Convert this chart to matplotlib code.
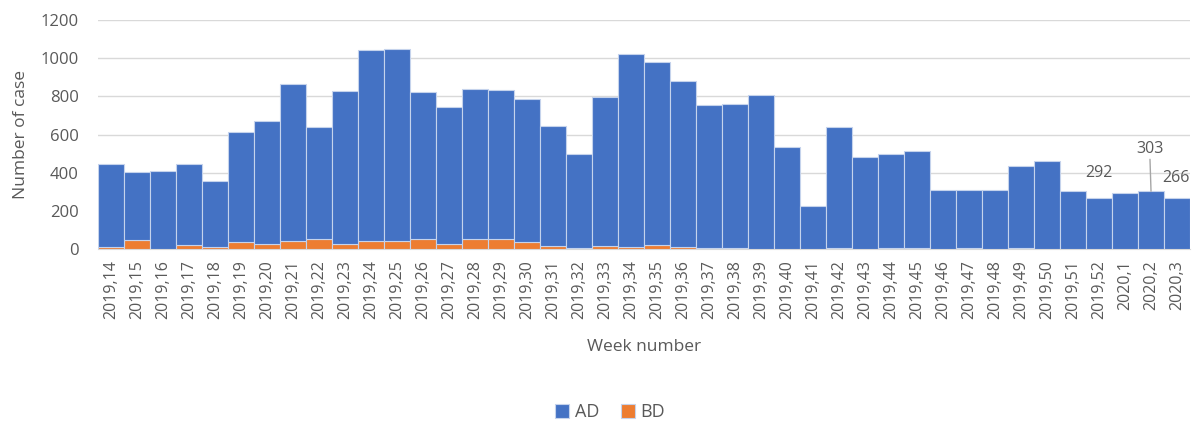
import matplotlib.pyplot as plt
import numpy as np

weeks = ['2019,%d' % w for w in range(14, 53)] + ['2020,1', '2020,2', '2020,3']

total = [444, 405, 410, 448, 357, 612, 672, 862, 640, 828,
         1040, 1047, 825, 742, 840, 835, 787, 645, 497, 798,
         1022, 978, 878, 755, 762, 805, 533, 228, 638, 480,
         497, 513, 310, 310, 307, 433, 460, 305, 270, 292,
         303, 266]

bd = [13, 50, 1, 24, 9, 36, 28, 45, 54, 28,
      41, 41, 54, 28, 54, 54, 36, 19, 7, 19,
      13, 22, 11, 6, 6, 2, 0, 0, 4, 0,
      4, 4, 0, 4, 0, 4, 0, 0, 0, 0,
      0, 0]

ad = [t - b for t, b in zip(total, bd)]

# labelled points at the end of the series
labels = {'2020,1': 292, '2020,2': 303, '2020,3': 266}

plt.rcParams['font.family'] = ['Open Sans', 'DejaVu Sans']
grey = '#595959'

fig = plt.figure(figsize=(11.96, 4.23), dpi=100)
ax = fig.add_axes([0.082, 0.411, 0.913, 0.542])

x = np.arange(len(weeks))
edge = '#c5d3ec'
ax.bar(x, bd, width=1.0, color='#ED7D31', edgecolor=edge, linewidth=0.8,
       label='BD', zorder=3)
ax.bar(x, ad, width=1.0, bottom=bd, color='#4472C4', edgecolor=edge,
       linewidth=0.8, label='AD', zorder=3)

ax.set_ylim(0, 1200)
ax.set_yticks(range(0, 1201, 200))
ax.set_xlim(-0.5, len(weeks) - 0.5)
ax.set_xticks(x)
ax.set_xticklabels(weeks, rotation=90)
ax.yaxis.grid(True, color='#d9d9d9', linewidth=1, zorder=0)
ax.tick_params(axis='both', length=0, colors=grey, labelsize=11.5)
ax.tick_params(axis='y', pad=14, labelsize=12)
ax.tick_params(axis='x', pad=8)
for s in ['top', 'right', 'left']:
    ax.spines[s].set_visible(False)
ax.spines['bottom'].set_color('#d9d9d9')

ax.set_xlabel('Week number', color=grey, fontsize=12.5, labelpad=14)
ax.set_ylabel('Number of case', color=grey, fontsize=12.5, labelpad=8)

i1 = weeks.index('2020,1')
i2 = weeks.index('2020,2')
i3 = weeks.index('2020,3')
ax.annotate(str(labels['2020,1']), (i1, labels['2020,1']), xytext=(-19, 9),
            textcoords='offset points', ha='center', va='bottom',
            color=grey, fontsize=11.5)
ax.annotate(str(labels['2020,2']), (i2, labels['2020,2']), xytext=(-1, 25),
            textcoords='offset points', ha='center', va='bottom',
            color=grey, fontsize=11.5,
            arrowprops=dict(arrowstyle='-', color='#a6a6a6', lw=1,
                            shrinkA=0, shrinkB=0))
ax.annotate(str(labels['2020,3']), (i3, labels['2020,3']), xytext=(-1, 9),
            textcoords='offset points', ha='center', va='bottom',
            color=grey, fontsize=11.5)

h, l = ax.get_legend_handles_labels()
fig.legend(h[::-1], l[::-1], loc='center', bbox_to_anchor=(0.51, 0.025),
           ncol=2, frameon=False, fontsize=13, handlelength=0.8,
           handleheight=0.8, handletextpad=0.3, columnspacing=1.2,
           labelcolor=grey)

fig.savefig('out.png', dpi=100)
